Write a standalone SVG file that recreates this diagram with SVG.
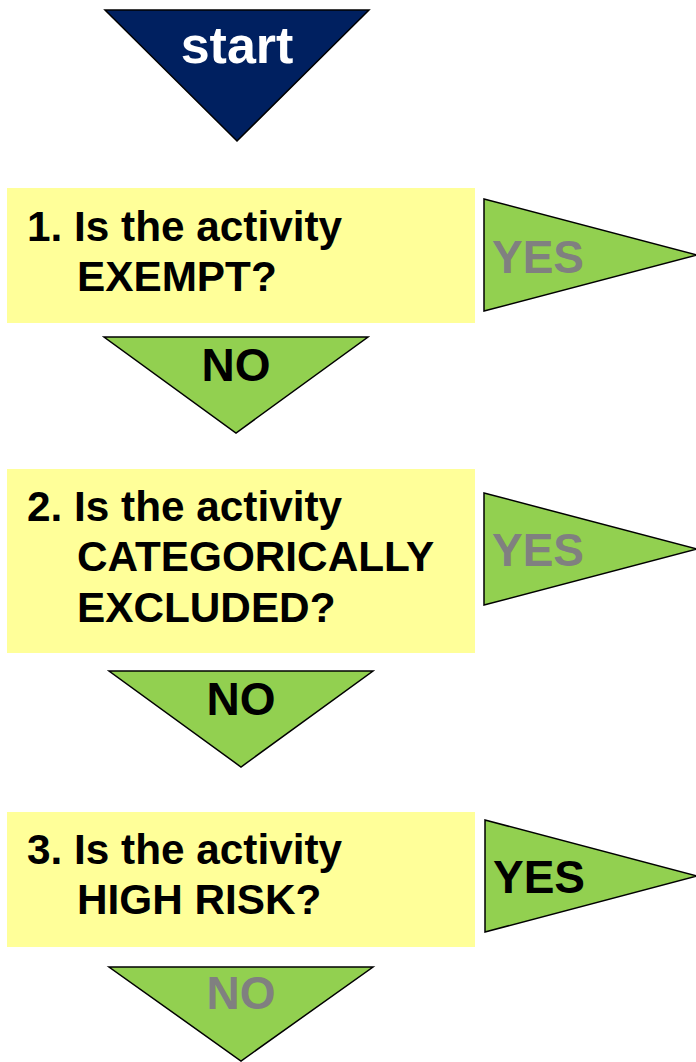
<svg xmlns="http://www.w3.org/2000/svg" width="696" height="1062" viewBox="0 0 696 1062">
<style>
.box{fill:#FFFF99;stroke:none}
.tri{fill:#92D050;stroke:#000;stroke-width:1.5;stroke-linejoin:miter}
.start{fill:#002060;stroke:#000;stroke-width:1.5}
text{font-family:"Liberation Sans",Arial,sans-serif;font-weight:bold}
.q{font-size:42.3px;fill:#000}
.lbl{font-size:46px}
.blk{fill:#000}
.gry{fill:#808080}
</style>
<rect width="696" height="1062" fill="#fff"/>
<g id="start">
<polygon class="start" points="105,10 369,10 237,141"/>
<text x="237" y="63" font-size="52" fill="#fff" text-anchor="middle">start</text>
</g>
<g id="q1">
<rect class="box" x="7" y="188" width="468" height="135"/>
<text class="q" x="27" y="241">1. Is the activity</text>
<text class="q" x="77" y="291">EXEMPT?</text>
</g>
<g id="q2">
<rect class="box" x="7" y="469" width="468" height="184"/>
<text class="q" x="27" y="521">2. Is the activity</text>
<text class="q" x="77" y="571">CATEGORICALLY</text>
<text class="q" x="77" y="622">EXCLUDED?</text>
</g>
<g id="q3">
<rect class="box" x="7" y="812" width="468" height="135"/>
<text class="q" x="27" y="864">3. Is the activity</text>
<text class="q" x="77" y="914">HIGH RISK?</text>
</g>
<g id="connectors">
<g id="yes1">
<polygon class="tri" points="484,199 484,311 697,255"/>
<text class="lbl gry" x="492" y="273">YES</text>
</g>
<g id="no1">
<polygon class="tri" points="104,337 368,337 236,433"/>
<text class="lbl blk" x="236" y="381" text-anchor="middle">NO</text>
</g>
<g id="yes2">
<polygon class="tri" points="484,493 484,605 697,549"/>
<text class="lbl gry" x="492" y="566">YES</text>
</g>
<g id="no2">
<polygon class="tri" points="109,671 373,671 241,767"/>
<text class="lbl blk" x="241" y="715" text-anchor="middle">NO</text>
</g>
<g id="yes3">
<polygon class="tri" points="485,820 485,932 697,876"/>
<text class="lbl blk" x="493" y="893">YES</text>
</g>
<g id="no3">
<polygon class="tri" points="109,967 373,967 241,1061"/>
<text class="lbl gry" x="241" y="1009" text-anchor="middle">NO</text>
</g>
</g>
</svg>
